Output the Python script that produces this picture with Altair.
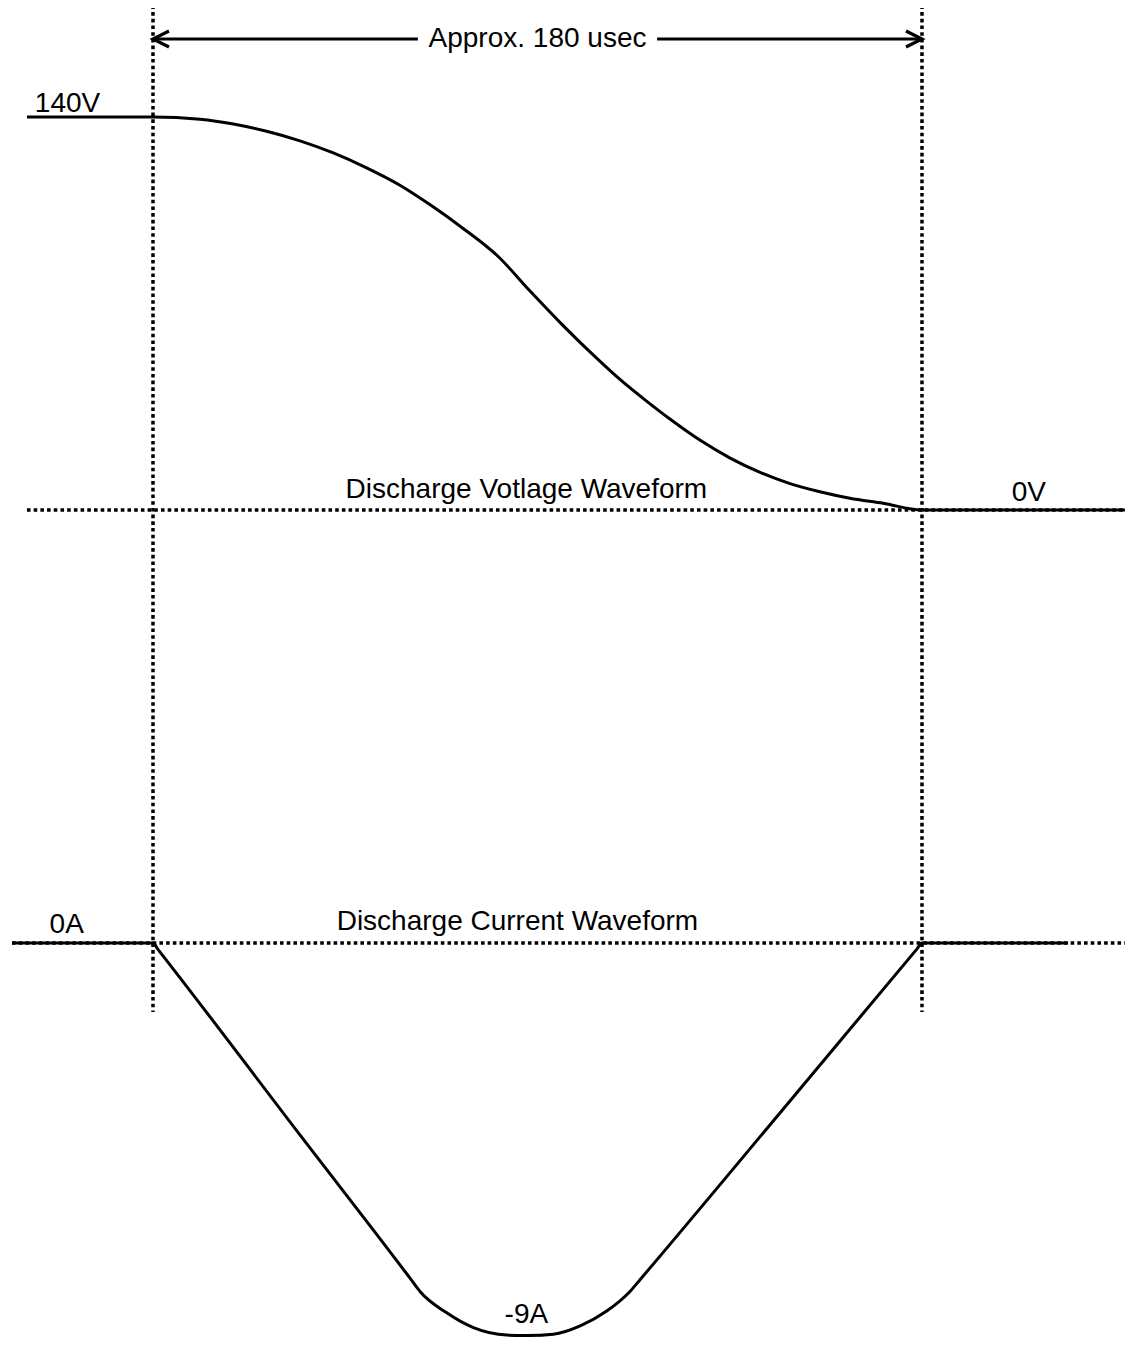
import altair as alt
import pandas as pd

# ---- data (time in usec, voltage in V, current in A) ----
v_t = [-29.5, 0, 11.0, 18.8, 26.6, 34.4, 42.2, 50.0, 57.8, 64.8, 72.6, 80.8, 88.2,
       96.0, 103.9, 109.3, 115.6, 121.0, 128.0, 135.1, 142.1, 149.1, 156.1, 163.1,
       170.9, 180, 227.5]
v_val = [140, 140, 139.2, 137.5, 134.9, 131.5, 127.2, 121.9, 115.7, 108.8, 100.3, 90.3,
         78.1, 65.7, 54.0, 46.5, 38.7, 32.4, 24.9, 18.5, 13.4, 9.4, 6.5, 4.2, 2.4, 0, 0]

i_t = [-33.0, 0, 1.2, 34.4, 60.2, 62.5, 68.75, 75.0, 82.8, 87.5, 93.7, 100.0, 106.2,
       111.65, 114.0, 146.8, 178.8, 180, 214.2]
i_val = [0, 0, -0.15, -4.40, -7.69, -7.99, -8.48, -8.82, -8.99, -9.0, -8.97, -8.78, -8.44,
         -7.99, -7.72, -3.89, -0.14, 0, 0]

# reference (dotted) levels
zero_v_t = [-29.5, 227.5]
zero_a_t = [-33.0, 227.5]
marker_t = [0, 180]
marker_top_a = 21.5
marker_bottom_a = -1.58

# duration arrow
arrow_v = 167.8
arrow_segments = [(0, 62.0), (118.0, 180)]
arrow_label = "Approx. 180 usec"
arrow_label_t = 90

# labels
v_labels = pd.DataFrame({
    "t": [-20, 205, 87.4],
    "v": [141.8, 3.2, 4.3],
    "text": ["140V", "0V", "Discharge Votlage Waveform"],
})
a_labels = pd.DataFrame({
    "t": [-20.2, 85.3, 87.4],
    "a": [0.22, 0.3, -8.72],
    "text": ["0A", "Discharge Current Waveform", "-9A"],
})

XDOM = [-33.94, 227.52]
VDOM = [-294.60, 178.83]
ADOM = [-9.034, 21.440]

FONT = "Liberation Sans"
FS = 28
DOT = [3.6, 3.1]
DOTW = 3.5

xs = alt.Scale(domain=XDOM, nice=False, zero=False)
vs = alt.Scale(domain=VDOM, nice=False, zero=False)
as_ = alt.Scale(domain=ADOM, nice=False, zero=False)

X = lambda f: alt.X(f, type="quantitative", scale=xs, axis=None)
YV = lambda f: alt.Y(f, type="quantitative", scale=vs, axis=None)
YA = lambda f: alt.Y(f, type="quantitative", scale=as_, axis=None)

volt = pd.DataFrame({"t": v_t, "v": v_val})
curr = pd.DataFrame({"t": i_t, "a": i_val})

zero_v = alt.Chart(pd.DataFrame({"t": [zero_v_t[0]], "t2": [zero_v_t[1]], "v": [0]})).mark_rule(
    strokeWidth=DOTW, strokeDash=DOT, color="black").encode(x=X("t"), x2="t2", y=YV("v"))
zero_a = alt.Chart(pd.DataFrame({"t": [zero_a_t[0]], "t2": [zero_a_t[1]], "a": [0]})).mark_rule(
    strokeWidth=DOTW, strokeDash=DOT, color="black").encode(x=X("t"), x2="t2", y=YA("a"))
markers = alt.Chart(pd.DataFrame({"t": marker_t, "a": [marker_top_a] * 2,
                                  "a2": [marker_bottom_a] * 2})).mark_rule(
    strokeWidth=DOTW, strokeDash=DOT, color="black").encode(x=X("t"), y=YA("a"), y2="a2")

vline = alt.Chart(volt).mark_line(color="black", strokeWidth=3, interpolate="monotone").encode(
    x=X("t"), y=YV("v"), order="t:Q")
aline = alt.Chart(curr).mark_line(color="black", strokeWidth=3, interpolate="monotone",
                                  strokeJoin="round").encode(
    x=X("t"), y=YA("a"), order="t:Q")

arr_df = pd.DataFrame({"t": [s[0] for s in arrow_segments], "t2": [s[1] for s in arrow_segments],
                       "v": [arrow_v] * 2})
arrow = alt.Chart(arr_df).mark_rule(color="black", strokeWidth=3).encode(
    x=X("t"), x2="t2", y=YV("v"))
heads = alt.Chart(pd.DataFrame({"t": marker_t, "v": [arrow_v] * 2, "side": ["L", "R"]})).mark_point(
    filled=False, color="black", strokeWidth=3.2, size=256, opacity=1, strokeJoin="miter").encode(
    x=X("t"), y=YV("v"),
    shape=alt.Shape("side:N", scale=alt.Scale(domain=["L", "R"],
                                              range=["M2,-1L0,0L2,1", "M-2,-1L0,0L-2,1"]),
                    legend=None))
arrow_text = alt.Chart(pd.DataFrame({"t": [arrow_label_t], "v": [arrow_v], "text": [arrow_label]})).mark_text(
    font=FONT, fontSize=FS, baseline="middle", align="center", color="black").encode(
    x=X("t"), y=YV("v"), text="text:N")

vtext = alt.Chart(v_labels).mark_text(font=FONT, fontSize=FS, baseline="alphabetic",
                                      align="center", color="black").encode(
    x=X("t"), y=YV("v"), text="text:N")
atext = alt.Chart(a_labels).mark_text(font=FONT, fontSize=FS, baseline="alphabetic",
                                      align="center", color="black").encode(
    x=X("t"), y=YA("a"), text="text:N")

chart = alt.layer(
    zero_v, zero_a, markers, vline, aline, arrow, heads, arrow_text, vtext, atext
).resolve_scale(y="independent", shape="independent").properties(
    width=1117, height=1329, padding=0, autosize=alt.AutoSizeParams(type="none"),
    background="white",
).configure_view(stroke=None)

chart.save("out.html", embed_options={"renderer": "svg", "actions": False})
